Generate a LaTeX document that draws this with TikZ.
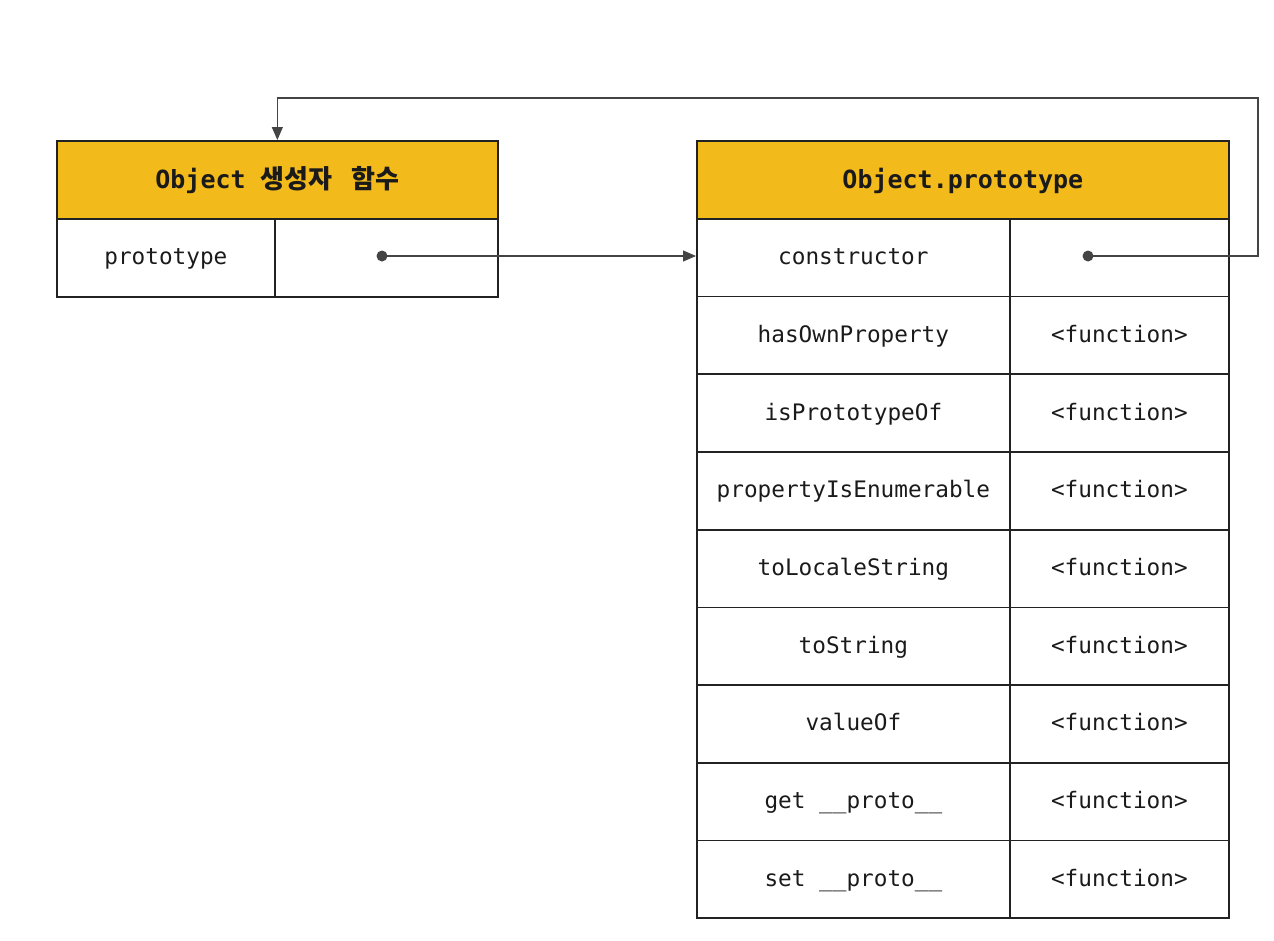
\documentclass[tikz,border=0pt]{standalone}
\usepackage{fontspec}
\setmonofont{DejaVu Sans Mono}
\newfontfamily\krfont{Noto Sans CJK KR}
\usetikzlibrary{arrows.meta}
\definecolor{hdr}{HTML}{F3BA1C}
\definecolor{ln}{HTML}{222222}
\definecolor{cn}{HTML}{444444}
\definecolor{tx}{HTML}{1A1A1A}
\begin{document}
\begin{tikzpicture}[x=1pt,y=-1pt,
  cellbox/.style={draw=ln, line width=1.7pt, inner sep=0pt, anchor=north west,
    minimum height=77.7pt, text=tx, text height=16pt, text depth=2pt,
    font=\ttfamily\fontsize{22.7}{27}\selectfont},
  hdrbox/.style={cellbox, fill=hdr, minimum height=78pt, text height=21pt, text depth=3pt,
    font=\ttfamily\bfseries\fontsize{25}{30}\selectfont},
  namebox/.style={cellbox, minimum width=313pt},
  valbox/.style={cellbox, minimum width=219pt},
  dotnode/.style={circle, fill=cn, inner sep=0pt, minimum size=11pt},
  conn/.style={draw=cn, line width=1.1pt},
  tip/.style={-{Triangle[length=13pt,width=11pt]}}
]
\useasboundingbox (0,0) rectangle (1274,940);
% left table
\node[hdrbox, minimum width=441pt] (hL) at (56,140) {Object {\krfont\bfseries\fontsize{26}{30}\selectfont 생성자\hspace{0.5em} 함수}};
\node[cellbox, minimum width=218pt, minimum height=78pt] (pL) at (56,218) {prototype};
\node[cellbox, minimum width=223pt, minimum height=78pt] (vL) at (274,218) {};
% right table
\node[hdrbox, minimum width=532pt] (hR) at (696,140) {Object.prototype};
\foreach \i/\t/\v in {0/constructor/{},1/hasOwnProperty/<function>,2/isPrototypeOf/<function>,
  3/propertyIsEnumerable/<function>,4/toLocaleString/<function>,5/toString/<function>,
  6/valueOf/<function>,7/get \_\_proto\_\_/<function>,8/set \_\_proto\_\_/<function>}{
  \node[namebox] (n\i) at (696,218+77.7*\i) {\t};
  \node[valbox] (v\i) at (1009,218+77.7*\i) {\v};
}
% dots and connectors
\node[dotnode] (d1) at (382,256) {};
\node[dotnode] (d2) at (1088,256) {};
\coordinate (t1) at (1258,98);
\draw[conn,tip] (d1.center) -- (d1 -| n0.west);
\draw[conn,tip] (d2.center) -| (t1) -| (hL.north);
\end{tikzpicture}
\end{document}
